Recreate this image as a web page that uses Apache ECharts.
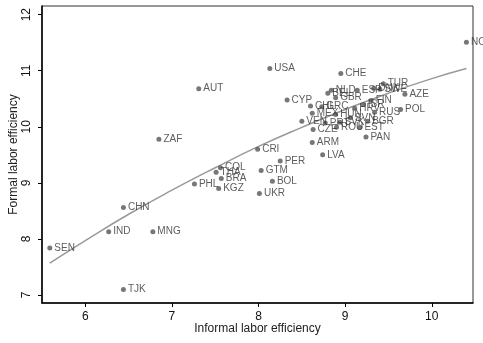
<!DOCTYPE html>
<html>
<head>
<meta charset="utf-8">
<script src="https://cdn.jsdelivr.net/npm/echarts@6/dist/echarts.min.js"></script>
<style>
html,body{margin:0;padding:0;background:#fff;}
#chart{width:483px;height:343px;}
</style>
</head>
<body>
<div id="chart"></div>
<script>
// country codes and their (informal, formal) labor efficiency
var countries = ['NOR','USA','CHE','AUT','TUR','AZE','POL','SWE','DNK','ESP','FIN','NLD','BEL','GBR','CYP',
	'CHL','GRC','MEX','HUN','VEN','CZE','ROU','HRV','ISR','RUS','BGR','EST','PAN','ARM','LVA','SVK','SVN','PRT',
	'ZAF','CRI','PER','GTM','BOL','UKR','COL','THA','BRA','KGZ','PHL','CHN','IND','MNG','SEN','TJK'];
var informal = [10.40,8.13,8.95,7.31,9.44,9.69,9.64,9.40,9.33,9.14,9.30,8.84,8.80,8.89,8.33,
	8.60,8.73,8.62,8.89,8.50,8.63,8.90,9.11,9.21,9.34,9.26,9.17,9.24,8.62,8.74,8.94,9.06,8.77,
	6.85,7.99,8.25,8.03,8.16,8.01,7.56,7.51,7.57,7.54,7.26,6.44,6.27,6.78,5.59,6.44];
var formal = [11.51,11.04,10.95,10.68,10.77,10.58,10.31,10.67,10.69,10.65,10.47,10.65,10.60,10.52,10.48,
	10.37,10.36,10.24,10.22,10.10,9.95,9.99,10.33,10.40,10.26,10.10,9.99,9.82,9.72,9.50,10.08,10.16,10.07,
	9.78,9.60,9.39,9.22,9.03,8.81,9.27,9.19,9.08,8.90,8.98,8.56,8.13,8.13,7.84,7.10];
// fitted curve
var fitX = [5.59,6.0,6.5,7.0,7.5,8.0,8.5,9.0,9.5,10.0,10.4];
var fitY = [7.57,7.97,8.44,8.87,9.27,9.65,9.99,10.31,10.60,10.86,11.04];
var xTicks = [6,7,8,9,10];
var yTicks = [7,8,9,10,11,12];

var font = 'Liberation Sans, Arial, sans-serif';
var pts = [];
for (var i = 0; i < countries.length; i++) {
	pts.push({name: countries[i], value: [informal[i], formal[i]]});
}
var fit = [];
for (var j = 0; j < fitX.length; j++) {
	fit.push([fitX[j], fitY[j]]);
}

var myChart = echarts.init(document.getElementById('chart'), null, {renderer: 'canvas'});
var option = {
	animation: false,
	backgroundColor: '#fff',
	grid: {left: 42, top: 6, right: 10, bottom: 40, show: true, borderColor: '#333', borderWidth: 1,
		outerBoundsMode: 'none'},
	xAxis: {
		type: 'value', min: 5.5, max: 10.476,
		name: 'Informal labor efficiency', nameLocation: 'middle', nameGap: 20, nameMoveOverlap: false,
		nameTextStyle: {fontFamily: font, fontSize: 12, color: '#222'},
		splitLine: {show: false},
		axisLine: {onZero: false, lineStyle: {color: '#000', width: 1.5}},
		axisTick: {length: 4, lineStyle: {color: '#000'}, customValues: xTicks},
		axisLabel: {fontFamily: font, fontSize: 12, color: '#111', margin: 8, customValues: xTicks}
	},
	yAxis: {
		type: 'value', min: 6.857, max: 12.155,
		name: 'Formal labor efficiency', nameLocation: 'middle', nameGap: 22, nameMoveOverlap: false,
		nameTextStyle: {fontFamily: font, fontSize: 12, color: '#222'},
		splitLine: {show: false},
		axisLine: {onZero: false, lineStyle: {color: '#000', width: 1.5}},
		axisTick: {length: 4, lineStyle: {color: '#000'}, customValues: yTicks},
		axisLabel: {fontFamily: font, fontSize: 12, color: '#111', rotate: 90, margin: 9, customValues: yTicks}
	},
	series: [{
		type: 'line',
		data: fit,
		smooth: true,
		symbol: 'none',
		lineStyle: {color: '#999', width: 1.5},
		z: 1
	}, {
		type: 'scatter',
		data: pts,
		symbolSize: 5,
		itemStyle: {color: '#555'},
		label: {
			show: true, position: 'right', distance: 2,
			formatter: '{b}', fontFamily: font, fontSize: 10, color: '#333'
		},
		z: 2
	}]
};
myChart.setOption(option);
</script>
</body>
</html>
